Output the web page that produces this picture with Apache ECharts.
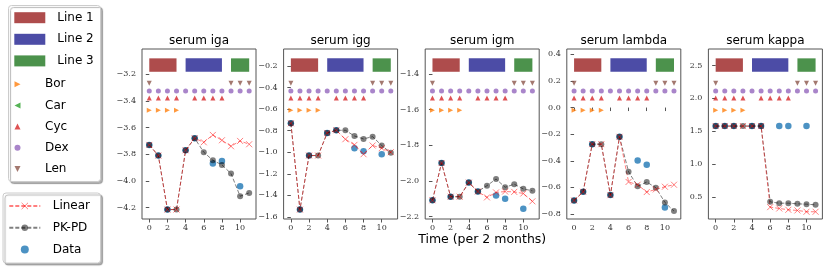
<!DOCTYPE html>
<html><head><meta charset="utf-8">
<script src="https://cdn.jsdelivr.net/npm/echarts@6/dist/echarts.min.js"></script>
<style>html,body{margin:0;padding:0;background:#fff}#c{width:830px;height:270px}</style>
</head><body><div id="c"></div>
<script>
// ---------- data ----------
const months = [0,1,2,3,4,5,6,7,8,9,10,11];
const xTickVals = [0,2,4,6,8,10];
const panelTitles = ['serum iga','serum igg','serum igm','serum lambda','serum kappa'];
const xLabel = 'Time (per 2 months)';

const igaLinear = [-3.73,-3.81,-4.215,-4.215,-3.77,-3.68,-3.71,-3.655,-3.695,-3.74,-3.70,-3.725];
const igaPkpd   = [-3.73,-3.81,-4.215,-4.215,-3.77,-3.68,-3.785,-3.845,-3.88,-3.945,-4.115,-4.09];
const igaData   = [-3.73,-3.81,-4.215,null,-3.77,-3.68,null,-3.87,-3.85,null,-4.04,null];
const igaTicks  = [-4.2,-4.0,-3.8,-3.6,-3.4,-3.2];
const igaRange  = [-4.286,-3.01];

const iggLinear = [-0.732,-1.532,-1.031,-1.031,-0.822,-0.797,-0.88,-0.932,-1.019,-0.938,-0.963,-1.0];
const iggPkpd   = [-0.732,-1.532,-1.031,-1.031,-0.822,-0.797,-0.797,-0.85,-0.877,-0.856,-0.938,-1.006];
const iggData   = [-0.732,-1.532,-1.031,null,-0.822,-0.797,null,-0.963,-0.991,null,-1.019,null];
const iggTicks  = [-1.6,-1.4,-1.2,-1.0,-0.8,-0.6,-0.4,-0.2];
const iggRange  = [-1.619,-0.044];

const igmLinear = [-2.108,-1.899,-2.088,-2.088,-2.009,-2.059,-2.092,-2.064,-2.059,-2.061,-2.07,-2.114];
const igmPkpd   = [-2.108,-1.899,-2.088,-2.088,-2.009,-2.059,-2.026,-1.989,-2.035,-2.018,-2.044,-2.055];
const igmData   = [-2.108,-1.899,-2.088,null,-2.009,-2.059,null,-2.081,-2.10,null,-2.156,null];
const igmTicks  = [-2.2,-2.0,-1.8,-1.6,-1.4];
const igmRange  = [-2.213,-1.26];

const lambdaLinear = [-0.698,-0.633,-0.275,-0.275,-0.658,-0.22,-0.559,-0.58,-0.635,-0.615,-0.595,-0.58];
const lambdaPkpd   = [-0.698,-0.633,-0.275,-0.275,-0.658,-0.22,-0.483,-0.592,-0.56,-0.602,-0.713,-0.778];
const lambdaData   = [-0.698,-0.633,-0.275,null,-0.658,-0.22,null,-0.397,-0.43,null,-0.751,null];
const lambdaTicks  = [-0.8,-0.6,-0.4,-0.2,0.0,0.2,0.4];
const lambdaRange  = [-0.8375,0.44];

const kappaLinear = [1.58,1.58,1.58,1.58,1.58,1.58,0.35,0.33,0.31,0.30,0.28,0.28];
const kappaPkpd   = [1.58,1.58,1.58,1.58,1.58,1.58,0.43,0.41,0.41,0.40,0.395,0.385];
const kappaData   = [1.58,1.58,1.58,null,1.58,1.58,null,1.58,1.58,null,1.58,null];
const kappaTicks  = [0.5,1.0,1.5,2.0,2.5];
const kappaRange  = [0.17,2.75];

// treatment lines / drugs (months)
const line1Span = [0,3];
const line2Span = [4,8];
const line3Span = [9,11];
const borMonths = [0,1,2,3];
const carMonths = [];
const cycMonths = [0,1,2,3,5,6,7,8];
const dexMonths = [0,1,2,3,4,5,6,7,8,9,10,11];
const lenMonths = [0,9,10,11];

// ---------- layout / style ----------
const SANS = 'DejaVu Sans', SERIF = 'DejaVu Serif';
const X_MIN = -0.8, X_MAX = 11.75;
const GRID_TOP = 49, GRID_H = 170, GRID_W = 114, GRID_LEFT0 = 142, GRID_STEP = 141.6;
const ROW = {rectLo:0.866, rectHi:0.945, len:0.798, dex:0.753, cyc:0.712, car:0.675, bor:0.639};
const LINE_COLORS = ['rgba(139,0,0,0.7)','rgba(0,0,128,0.7)','rgba(0,100,0,0.7)'];
const SYM = {
  right:'path://M0,0L10,5L0,10Z', left:'path://M10,0L0,5L10,10Z',
  up:'path://M5,0L10,10L0,10Z', down:'path://M0,0L10,0L5,10Z',
  x:'path://M0,0L10,10M10,0L0,10'
};
const drugs = [
  {name:'Bor', months:borMonths, row:'bor', color:'#ff7f0e', sym:SYM.right, size:5},
  {name:'Car', months:carMonths, row:'car', color:'#2ca02c', sym:SYM.left, size:5},
  {name:'Cyc', months:cycMonths, row:'cyc', color:'#d62728', sym:SYM.up, size:5},
  {name:'Dex', months:dexMonths, row:'dex', color:'#9467bd', sym:'circle', size:5},
  {name:'Len', months:lenMonths, row:'len', color:'#8c564b', sym:SYM.down, size:5}
];
const RED = 'rgba(255,0,0,0.5)', GREY = 'rgba(0,0,0,0.5)', BLUE = '#1f77b4';

const panels = [
  {lin:igaLinear, pk:igaPkpd, dat:igaData, ticks:igaTicks, range:igaRange},
  {lin:iggLinear, pk:iggPkpd, dat:iggData, ticks:iggTicks, range:iggRange},
  {lin:igmLinear, pk:igmPkpd, dat:igmData, ticks:igmTicks, range:igmRange},
  {lin:lambdaLinear, pk:lambdaPkpd, dat:lambdaData, ticks:lambdaTicks, range:lambdaRange},
  {lin:kappaLinear, pk:kappaPkpd, dat:kappaData, ticks:kappaTicks, range:kappaRange}
];

const fmt = v => (v < -1e-9 ? '\u2212' : '') + Math.abs(v).toFixed(1);
const pairs = arr => months.map((m,k)=>[m,arr[k]]).filter(p=>p[1]!==null);

const grids=[], xAxes=[], yAxes=[], series=[], titles=[];
panels.forEach((p,i)=>{
  const left = GRID_LEFT0 + i*GRID_STEP;
  grids.push({left, top:GRID_TOP, width:GRID_W, height:GRID_H, show:true, borderColor:'#555', borderWidth:1, backgroundColor:'transparent'});
  xAxes.push({type:'value', gridIndex:i, min:X_MIN, max:X_MAX,
    axisLine:{show:false}, splitLine:{show:false},
    axisTick:{show:true, inside:false, length:3.5, lineStyle:{color:'#555'}, customValues:xTickVals},
    axisLabel:{customValues:xTickVals, margin:5, fontFamily:SERIF, fontSize:8, color:'#333'}});
  yAxes.push({type:'value', gridIndex:i, min:p.range[0], max:p.range[1],
    axisLine:{show:false}, splitLine:{show:false},
    axisTick:{show:true, inside:false, length:3.5, lineStyle:{color:'#555'}, customValues:p.ticks},
    axisLabel:{customValues:p.ticks, margin:6, fontFamily:SERIF, fontSize:8, color:'#333', formatter:fmt}});
  yAxes.push({type:'value', gridIndex:i, min:0, max:1, show:false});
  titles.push({text:panelTitles[i], left:left+GRID_W/2, top:35, textAlign:'center', padding:0,
    textStyle:{fontFamily:SANS, fontSize:12, fontWeight:'normal', color:'#000'}});

  [line1Span,line2Span,line3Span].forEach((sp,j)=>{
    series.push({type:'custom', name:'Line '+(j+1), xAxisIndex:i, yAxisIndex:2*i+1,
      itemStyle:{color:LINE_COLORS[j]}, silent:true,
      encode:{x:[0,1], y:[2,3]},
      data:[[sp[0], sp[1], ROW.rectLo, ROW.rectHi]],
      renderItem:(params,api)=>{
        const a = api.coord([api.value(0), api.value(3)]);
        const b = api.coord([api.value(1), api.value(2)]);
        return {type:'rect', shape:{x:a[0], y:a[1], width:b[0]-a[0], height:b[1]-a[1]},
          style:{fill:api.visual('color')}};
      }});
  });
  drugs.forEach(d=>{
    series.push({type:'scatter', name:d.name, xAxisIndex:i, yAxisIndex:2*i+1,
      symbol:d.sym, symbolSize:d.size, itemStyle:{color:d.color}, silent:true,
      data:d.months.map(m=>[m, ROW[d.row]])});
  });
  series.push({type:'scatter', name:'Data', xAxisIndex:i, yAxisIndex:2*i,
    symbol:'circle', symbolSize:6.5, itemStyle:{color:BLUE}, data:pairs(p.dat), silent:true});
  series.push({type:'line', name:'PK-PD', xAxisIndex:i, yAxisIndex:2*i,
    symbol:'circle', symbolSize:6, itemStyle:{color:GREY},
    lineStyle:{color:GREY, width:1, type:[4,2]}, data:pairs(p.pk), silent:true});
  series.push({type:'line', name:'Linear', xAxisIndex:i, yAxisIndex:2*i,
    symbol:SYM.x, symbolSize:6, itemStyle:{color:RED, borderColor:RED, borderWidth:1},
    lineStyle:{color:RED, width:1, type:[4,2]}, data:pairs(p.lin), silent:true});
});
titles.push({text:xLabel, left:GRID_LEFT0+2*GRID_STEP+GRID_W/2, top:233, textAlign:'center', padding:0,
  textStyle:{fontFamily:SANS, fontSize:12.5, fontWeight:'normal', color:'#000'}});

const legText = {fontFamily:SANS, fontSize:12, color:'#000'};
const option = {
  animation:false,
  backgroundColor:'#fff',
  title:titles,
  grid:grids, xAxis:xAxes, yAxis:yAxes, series,
  graphic:[
    {type:'rect', z:0, shape:{x:8.5,y:5.5,width:92,height:176,r:3},
     style:{fill:'#fff', stroke:'#ccc', lineWidth:1, shadowColor:'rgba(0,0,0,0.3)', shadowOffsetX:2, shadowOffsetY:2, shadowBlur:1}},
    {type:'rect', z:0, shape:{x:3,y:193,width:97.5,height:70,r:3},
     style:{fill:'#fff', stroke:'#ccc', lineWidth:1, shadowColor:'rgba(0,0,0,0.3)', shadowOffsetX:2, shadowOffsetY:2, shadowBlur:1}}
  ],
  legend:[
    {orient:'vertical', left:14.3, top:11.7, padding:0, itemWidth:31, itemHeight:11, itemGap:9.6, selectedMode:false,
     textStyle:Object.assign({padding:[0,0,0,7]}, legText),
     data:['Line 1','Line 2','Line 3'].map(n=>({name:n, icon:'rect'}))},
    {orient:'vertical', left:14.5, top:78.2, padding:0, itemWidth:31, itemHeight:6, itemGap:9.2, selectedMode:false,
     textStyle:Object.assign({padding:[0,0,0,7]}, legText),
     data:drugs.map(d=>({name:d.name, icon:d.sym}))},
    {orient:'vertical', left:8.3, top:200, padding:0, itemWidth:31, itemHeight:8, itemGap:9.8, selectedMode:false,
     textStyle:Object.assign({padding:[0,0,0,7.4]}, legText),
     data:[{name:'Linear', itemStyle:{borderColor:RED, borderWidth:1}}, {name:'PK-PD'}, {name:'Data', icon:'circle'}]}
  ]
};
const chart = echarts.init(document.getElementById('c'));
chart.setOption(option);
</script></body></html>
